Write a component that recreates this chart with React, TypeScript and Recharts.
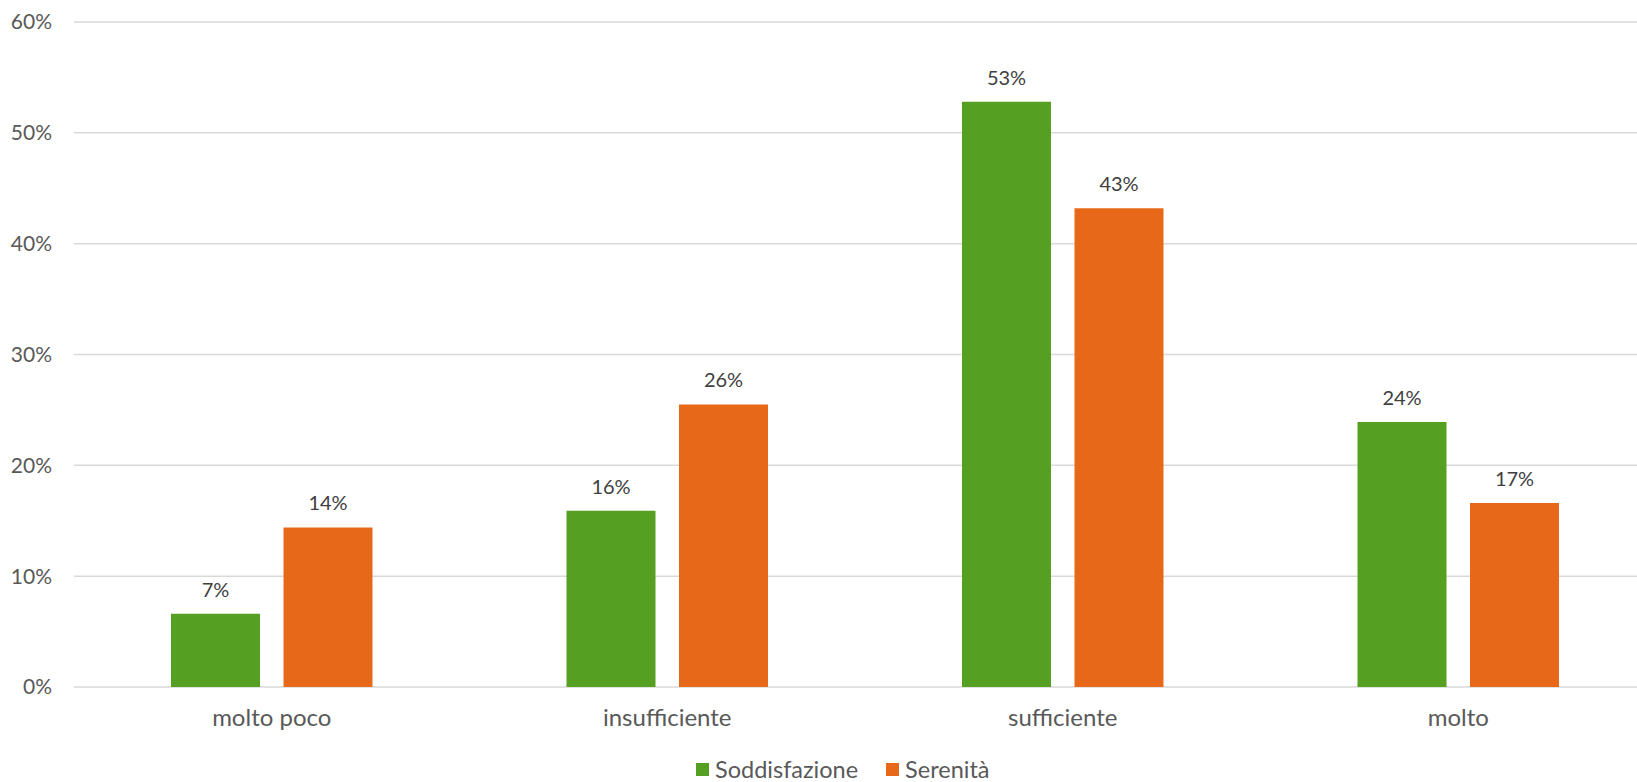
import React from 'react';
import { BarChart, Bar, XAxis, YAxis, CartesianGrid, LabelList } from 'recharts';

const categories = ['molto poco', 'insufficiente', 'sufficiente', 'molto'];
const soddisfazione = [6.6, 15.9, 52.8, 23.9];
const serenita = [14.4, 25.5, 43.2, 16.6];
const yTicks = [0, 10, 20, 30, 40, 50, 60];
const seriesNames = ['Soddisfazione', 'Serenità'];
const seriesColors = ['#55A022', '#E8681A'];

const data = categories.map((name, i) => ({ name, s0: soddisfazione[i], s1: serenita[i] }));

const FONT = 'Lato, "Open Sans", sans-serif';

export default function App() {
  return (
    <div style={{ position: 'absolute', left: 0, top: 0, width: 1637, height: 782, overflow: 'hidden', background: '#fff', fontFamily: FONT }}>
      <BarChart width={1660} height={782} data={data} margin={{ top: 22, right: 4, left: 0, bottom: 55 }} barGap={23.5}>
        <CartesianGrid vertical={false} stroke="#d9d9d9" strokeWidth={1.5} />
        <XAxis dataKey="name" height={40} tickLine={false} axisLine={false} tickSize={0} tickMargin={22}
          tick={{ fill: '#595959', fontSize: 24, fontFamily: FONT }} interval={0} />
        <YAxis width={74} domain={[0, 60]} ticks={yTicks} tickLine={false} axisLine={false} tickSize={0} tickMargin={22}
          tickFormatter={(v: number) => `${v}%`} tick={{ fill: '#595959', fontSize: 21, fontFamily: FONT }} interval={0} />
        {['s0', 's1'].map((k, i) => (
          <Bar key={k} dataKey={k} name={seriesNames[i]} fill={seriesColors[i]} barSize={89} isAnimationActive={false}>
            <LabelList dataKey={k} position="top" offset={17} fill="#404040" fontSize={20} fontFamily={FONT}
              formatter={(v: any) => `${Math.round(Number(v))}%`} />
          </Bar>
        ))}
      </BarChart>
      <div style={{ position: 'absolute', left: 696, top: 755, display: 'flex', alignItems: 'center', fontSize: 23.5, color: '#595959', whiteSpace: 'nowrap' }}>
        {seriesNames.map((n, i) => (
          <div key={n} style={{ display: 'flex', alignItems: 'center', marginRight: i === 0 ? 28 : 0 }}>
            <span style={{ display: 'inline-block', width: 13, height: 13, background: seriesColors[i], marginRight: 6 }} />
            <span>{n}</span>
          </div>
        ))}
      </div>
    </div>
  );
}
